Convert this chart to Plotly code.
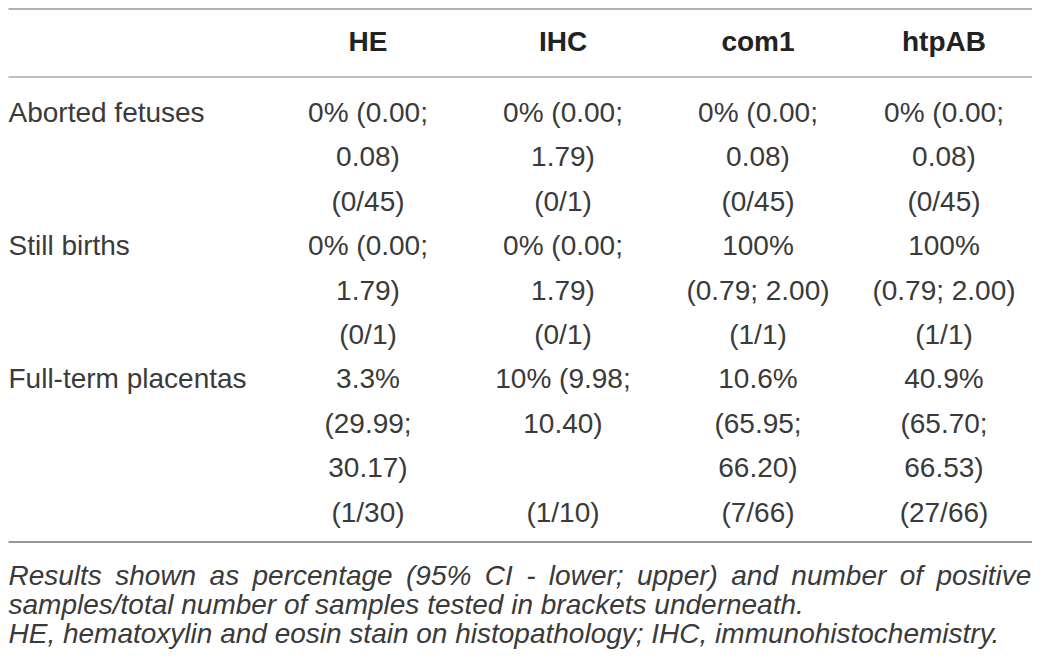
import plotly.graph_objects as go

# table content
columns = ["HE", "IHC", "com1", "htpAB"]
row_labels = ["Aborted fetuses", "Still births", "Full-term placentas"]

# percentage (95% CI) cells, wrapped the way the source table shows them
he_pct = [["0% (0.00;", "0.08)"], ["0% (0.00;", "1.79)"], ["3.3%", "(29.99;", "30.17)"]]
ihc_pct = [["0% (0.00;", "1.79)"], ["0% (0.00;", "1.79)"], ["10% (9.98;", "10.40)"]]
com1_pct = [["0% (0.00;", "0.08)"], ["100%", "(0.79; 2.00)"], ["10.6%", "(65.95;", "66.20)"]]
htpab_pct = [["0% (0.00;", "0.08)"], ["100%", "(0.79; 2.00)"], ["40.9%", "(65.70;", "66.53)"]]

# positives / tested
he_n = ["(0/45)", "(0/1)", "(1/30)"]
ihc_n = ["(0/1)", "(0/1)", "(1/10)"]
com1_n = ["(0/45)", "(1/1)", "(7/66)"]
htpab_n = ["(0/45)", "(1/1)", "(27/66)"]

footnotes = [
    "Results shown as percentage (95% CI - lower; upper) and number of positive",
    "samples/total number of samples tested in brackets underneath.",
    "HE, hematoxylin and eosin stain on histopathology; IHC, immunohistochemistry.",
]

pct_cols = [he_pct, ihc_pct, com1_pct, htpab_pct]
n_cols = [he_n, ihc_n, com1_n, htpab_n]

FONT = "Liberation Sans"
TXT = "#3a3a3a"
LEFT = 8.5
col_x = [368, 563, 758, 944]
header_y = 44
first_line_y = 115
line_h = 44.4
note_y = [578, 607, 636]

fig = go.Figure()

# header
fig.add_trace(go.Scatter(x=col_x, y=[header_y] * len(columns), text=columns, mode="text",
                         textposition="middle center", cliponaxis=False,
                         textfont=dict(family=FONT, size=28, color="#222222", weight="bold"),
                         hoverinfo="skip"))

# body rows
line = 0
for r, label in enumerate(row_labels):
    row_y = first_line_y + line * line_h
    fig.add_trace(go.Scatter(x=[LEFT], y=[row_y], text=[label], mode="text",
                             textposition="middle right", cliponaxis=False,
                             textfont=dict(family=FONT, size=28, color=TXT), hoverinfo="skip"))
    nlines = max(len(c[r]) for c in pct_cols)
    xs, ys, ts = [], [], []
    for c in range(len(columns)):
        for k, t in enumerate(pct_cols[c][r]):
            xs.append(col_x[c])
            ys.append(row_y + k * line_h)
            ts.append(t)
        xs.append(col_x[c])
        ys.append(row_y + nlines * line_h)
        ts.append(n_cols[c][r])
    fig.add_trace(go.Scatter(x=xs, y=ys, text=ts, mode="text", textposition="middle center",
                             cliponaxis=False,
                             textfont=dict(family=FONT, size=28, color=TXT), hoverinfo="skip"))
    line += nlines + 1

# footnote, first line stretched with wider spaces to look justified
note_text = [footnotes[0].replace(" ", " \u2009")] + footnotes[1:]
fig.add_trace(go.Scatter(x=[LEFT] * len(footnotes), y=note_y, text=note_text, mode="text",
                         textposition="middle right", cliponaxis=False,
                         textfont=dict(family=FONT, size=28, color=TXT, style="italic"),
                         hoverinfo="skip"))

# rules
for y, col in [(9, "#999999"), (77, "#aaaaaa"), (542, "#777777")]:
    fig.add_shape(type="line", x0=LEFT, x1=1033, y0=y, y1=y, line=dict(color=col, width=1.5))

# page body has an 8px margin, so the axes start at 8 to keep 1 unit = 1 screen pixel
fig.update_layout(
    width=1032, height=658,
    margin=dict(l=0, r=0, t=0, b=0),
    paper_bgcolor="white", plot_bgcolor="white",
    showlegend=False,
    xaxis=dict(range=[8, 1040], visible=False),
    yaxis=dict(range=[666, 8], visible=False),
)

fig.write_html("out.html")
